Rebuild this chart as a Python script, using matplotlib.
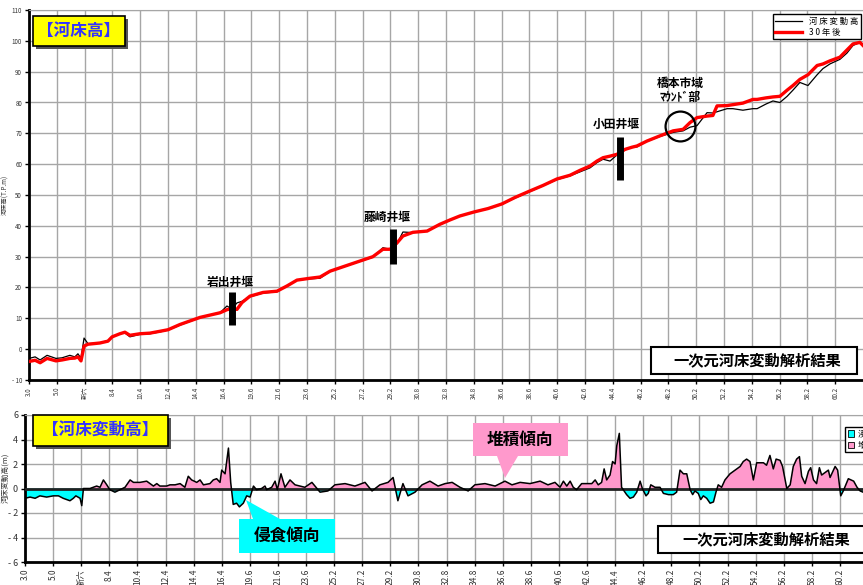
import matplotlib
matplotlib.use('Agg')
import matplotlib.pyplot as plt
from matplotlib.patches import Rectangle, Polygon, Patch

plt.rcParams['font.family'] = ['Noto Sans CJK JP', 'DejaVu Sans']

# ---------------- data ----------------
tick_labels = ['3.0', '5.0', '新六', '8.4', '10.4', '12.4', '14.4', '16.4', '19.6', '21.6',
               '23.6', '25.2', '27.2', '29.2', '30.8', '32.8', '34.8', '36.6', '38.6', '40.6',
               '42.6', '44.4', '46.2', '48.2', '50.2', '52.2', '54.2', '56.2', '58.2', '60.2']

# upper chart: positions on the category axis (tick index units)
top_pos = [0.00, 0.22, 0.40, 0.65, 0.97, 1.19, 1.47, 1.65, 1.76, 1.87, 1.98, 2.12, 2.55, 2.84,
           2.99, 3.27, 3.45, 3.63, 3.99, 4.35, 4.71, 5.00, 5.43, 6.15, 6.87, 7.12, 7.30, 7.48,
           7.66, 7.95, 8.42, 8.92, 9.28, 9.64, 10.11, 10.47, 10.83, 11.19, 11.91, 12.37, 12.73,
           12.99, 13.24, 13.45, 13.81, 14.32, 14.78, 15.14, 15.50, 16.01, 16.51, 17.01, 17.48,
           17.99, 18.49, 18.99, 19.46, 19.82, 20.18, 20.43, 20.65, 20.90, 21.15, 21.44, 21.69,
           21.87, 22.23, 22.70, 23.17, 23.53, 23.78, 24.03, 24.39, 24.60, 24.75, 25.11, 25.32,
           25.68, 26.04, 26.19, 26.51, 26.76, 27.01, 27.27, 27.48, 27.73, 28.02, 28.35, 28.56,
           28.81, 29.17, 29.42, 29.64, 29.89, 30.00]
current_bed = [-3.0, -2.5, -3.5, -2.0, -3.0, -2.8, -2.0, -2.5, -1.5, -3.0, 3.6, 1.8, 2.0, 2.8,
               4.0, 5.0, 5.3, 4.0, 4.8, 5.0, 5.6, 6.2, 7.8, 10.2, 11.8, 14.0, 13.0, 15.0,
               15.5, 17.0, 18.2, 18.6, 20.5, 22.4, 22.8, 23.0, 25.2, 26.3, 28.5, 29.8, 32.9,
               32.4, 34.2, 38.0, 37.8, 38.3, 40.4, 41.8, 43.2, 44.5, 45.5, 47.0, 49.0,
               51.0, 53.0, 55.0, 56.2, 57.5, 58.8, 60.5, 61.6, 61.0, 63.0, 64.6, 65.5,
               65.6, 67.4, 69.0, 70.3, 70.8, 72.0, 72.5, 76.7, 76.6, 77.0, 78.0, 78.0,
               77.5, 78.0, 78.0, 79.5, 80.5, 80.0, 82.0, 84.0, 86.5, 85.5, 89.0, 91.0,
               92.5, 94.0, 96.0, 98.5, 99.5, 98.5]
after_30y = [-4.0, -3.6, -4.4, -3.0, -3.8, -3.5, -3.0, -2.9, -2.5, -3.8, 1.0, 1.6, 2.0, 2.6,
             4.0, 5.0, 5.5, 4.5, 5.0, 5.2, 5.8, 6.3, 8.0, 10.3, 11.8, 12.8, 13.2, 12.9,
             15.1, 17.2, 18.4, 18.8, 20.5, 22.4, 23.0, 23.4, 25.3, 26.4, 28.6, 30.0, 32.4,
             32.4, 34.5, 36.7, 37.9, 38.3, 40.5, 41.9, 43.2, 44.5, 45.6, 47.1, 49.2,
             51.2, 53.1, 55.2, 56.4, 58.0, 59.4, 61.0, 62.1, 62.6, 63.2, 64.8, 65.5,
             65.9, 67.5, 69.2, 70.8, 71.3, 73.5, 75.1, 75.6, 75.8, 78.9, 79.0, 79.3,
             79.8, 81.0, 81.0, 81.5, 81.8, 82.0, 84.0, 85.5, 87.5, 89.0, 92.0, 92.5,
             93.5, 94.7, 97.0, 99.0, 99.5, 98.5]

# lower chart: riverbed change height (m)
chg_pos = [0.00, 0.18, 0.36, 0.53, 0.77, 1.01, 1.19, 1.36, 1.48, 1.60, 1.72, 1.81, 1.96, 2.02,
           2.08, 2.31, 2.55, 2.67, 2.79, 2.91, 3.02, 3.20, 3.38, 3.56, 3.74, 3.86, 4.09, 4.33,
           4.57, 4.69, 4.80, 5.04, 5.16, 5.34, 5.52, 5.69, 5.81, 5.93, 6.11, 6.23, 6.35, 6.58,
           6.70, 6.82, 6.94, 7.00, 7.12, 7.24, 7.32, 7.41, 7.53, 7.63, 7.77, 7.89, 8.01, 8.13,
           8.24, 8.42, 8.54, 8.60, 8.78, 8.90, 8.98, 9.11, 9.25, 9.43, 9.61, 9.79,
           9.96, 10.21, 10.50, 10.78, 11.03, 11.39, 11.74, 12.10, 12.35, 12.63, 12.92, 13.10,
           13.27, 13.45, 13.63, 13.88, 14.13, 14.41, 14.70, 14.95, 15.20, 15.48, 15.77, 16.01,
           16.37, 16.73, 17.08, 17.33, 17.62, 17.97, 18.33, 18.61, 18.86,
           19.04, 19.16, 19.28, 19.40, 19.51, 19.63, 19.81, 19.99, 20.17, 20.29, 20.40, 20.52,
           20.61, 20.70, 20.82, 20.91, 21.00, 21.06, 21.15, 21.23, 21.41, 21.53, 21.65, 21.77,
           21.89, 21.97, 22.10, 22.18, 22.27, 22.42, 22.60, 22.72, 22.90, 23.07, 23.19, 23.31,
           23.43, 23.55, 23.67, 23.76, 23.84, 23.96, 24.05, 24.14, 24.26, 24.38, 24.50, 24.59,
           24.67, 24.79, 24.91, 25.09, 25.33, 25.45, 25.56, 25.68, 25.80, 25.92, 26.04, 26.16,
           26.28, 26.39, 26.51, 26.63, 26.73, 26.87, 26.96, 27.11, 27.23, 27.34, 27.46, 27.56,
           27.64, 27.76, 27.88, 27.96, 28.06, 28.17, 28.27, 28.35, 28.47, 28.59, 28.65, 28.83,
           28.92, 29.03, 29.12, 29.30, 29.49, 29.61, 29.72, 29.83, 30.00]
chg_val = [-0.8, -0.7, -0.8, -0.6, -0.7, -0.6, -0.6, -0.8, -0.9, -1.0, -0.8, -0.6, -0.8, -1.4,
           0.0, 0.0, 0.2, 0.1, 0.7, 0.3, -0.1, -0.3, -0.1, 0.1, 0.7, 0.5, 0.5, 0.6,
           0.2, 0.4, 0.2, 0.2, 0.3, 0.3, 0.4, 0.1, 1.0, 0.7, 0.5, 0.7, 0.3, 0.4,
           0.7, 0.8, 0.5, 1.5, 1.2, 3.3, 0.5, -1.3, -1.2, -1.5, -1.2, -0.6, -0.7, 0.2,
           -0.1, 0.0, 0.2, -0.1, 0.1, 0.6, -0.1, 1.2, 0.1, 0.7, 0.3, 0.2,
           0.1, 0.5, -0.3, -0.2, 0.3, 0.4, 0.2, 0.5, -0.2, 0.3, 0.5, 0.9,
           -1.0, 0.4, -0.6, -0.3, 0.3, 0.6, 0.2, 0.4, 0.5, 0.1, -0.2, 0.3,
           0.4, 0.2, 0.6, 0.3, 0.5, 0.4, 0.6, 0.3, 0.5,
           0.1, 0.6, 0.2, 0.6, 0.1, -0.1, 0.4, 0.4, 0.4, 0.7, 0.3, 0.5,
           1.6, 0.7, 1.1, 2.2, 2.0, 3.5, 4.5, 0.1, -0.5, -0.8, -0.7, -0.3,
           0.6, 0.0, -0.6, -0.4, 0.3, 0.1, 0.1, -0.4, -0.5, -0.5, -0.3, 1.5,
           1.2, 1.2, -0.1, -0.5, -0.2, -0.4, -0.9, -0.6, -0.8, -1.2, -1.1, -0.3,
           0.3, 0.1, 0.7, 1.2, 1.6, 1.8, 2.2, 2.4, 2.2, 0.7, 2.1, 2.1,
           2.1, 1.9, 2.7, 1.6, 2.4, 2.3, 1.8, 0.0, 0.3, 1.8, 2.4, 2.6,
           1.0, 0.4, 1.4, 1.7, 0.7, 0.4, 1.7, 1.1, 1.3, 1.5, 0.9, 1.8,
           1.5, -0.6, -0.2, 0.8, 0.6, 0.1, -0.2, -0.3, -0.5]

weir_names = ['岩出井堰', '藤崎井堰', '小田井堰']
weir_pos = [7.30, 13.09, 21.26]

# ---------------- figure ----------------
W, H = 863, 585
fig = plt.figure(figsize=(W / 100, H / 100), dpi=100)


def fr(x0, y0, x1, y1):
    """pixel box (top-left origin) -> figure fraction rect"""
    return [x0 / W, 1 - y1 / H, (x1 - x0) / W, (y1 - y0) / H]


def px_rect(x0, y0, x1, y1, **kw):
    r = fr(x0, y0, x1, y1)
    return Rectangle((r[0], r[1]), r[2], r[3], transform=fig.transFigure, **kw)


def px_poly(pts, **kw):
    return Polygon([(x / W, 1 - y / H) for x, y in pts], closed=True,
                   transform=fig.transFigure, **kw)


grid_c = '#a6a6a6'

# ---------- upper chart ----------
ax1 = fig.add_axes(fr(29, 10, 863, 380))
ax1.set_xlim(0, 30)
ax1.set_ylim(-10, 110)
ax1.set_xticks(range(len(tick_labels)))
ax1.set_xticklabels(tick_labels, rotation=90, fontsize=4.5, color='#333333')
yt = list(range(-10, 111, 10))
ax1.set_yticks(yt)
ax1.set_yticklabels([('- %d' % -v) if v < 0 else str(v) for v in yt], fontsize=4.5, color='#333333')
ax1.grid(True, color=grid_c, lw=1)
ax1.set_axisbelow(True)
ax1.spines['right'].set_visible(False)
ax1.spines['top'].set_color(grid_c)
ax1.spines['left'].set_linewidth(2)
ax1.spines['bottom'].set_linewidth(2)
ax1.tick_params(length=3, width=1, pad=2)

ax1.plot(top_pos, current_bed, color='black', lw=0.9, label='河 床 変 動 高', zorder=3)
ax1.plot(top_pos, after_30y, color='red', lw=2.4, label='3 0 年 後', zorder=4)

leg = ax1.legend(loc='upper left', bbox_to_anchor=(0.892, 0.988), fontsize=6,
                 frameon=True, fancybox=False, edgecolor='black', framealpha=1,
                 handlelength=3.2, borderpad=0.3, labelspacing=0.2, borderaxespad=0)
leg.get_frame().set_linewidth(1)

# weirs
weir_y = [(7.7, 18.4), (27.5, 39.0), (55.0, 68.9)]
weir_lab = [(7.23, 21.7), (12.87, 42.8), (21.14, 73.0)]
for name, xp, (y0, y1), (lx, ly) in zip(weir_names, weir_pos, weir_y, weir_lab):
    ax1.plot([xp, xp], [y0, y1], color='black', lw=5, solid_capstyle='butt', zorder=6)
    ax1.text(lx, ly, name, ha='center', va='center', fontsize=8.5, fontweight='bold', zorder=7)

ax1.text(23.42, 86.3, '橋本市域', ha='center', va='center', fontsize=8.5, fontweight='bold')
ax1.text(23.42, 81.5, 'ﾏｳﾝﾄﾞ部', ha='center', va='center', fontsize=8.5, fontweight='bold')
ax1.plot([23.42], [72.4], 'o', ms=21.5, mfc='none', mec='black', mew=1.6, zorder=6)

# ---------- lower chart ----------
ax2 = fig.add_axes(fr(25, 415, 868, 562))
ax2.set_xlim(0, 30)
ax2.set_ylim(-6, 6)
ax2.set_xticks(range(len(tick_labels)))
ax2.set_xticklabels(tick_labels, rotation=90, fontsize=6, color='#333333')
yt2 = list(range(-6, 7, 2))
ax2.set_yticks(yt2)
ax2.set_yticklabels([('- %d' % -v) if v < 0 else str(v) for v in yt2], fontsize=6.5, color='#333333')
ax2.grid(True, color=grid_c, lw=1)
ax2.set_axisbelow(True)
ax2.spines['right'].set_visible(False)
ax2.spines['top'].set_color(grid_c)
ax2.spines['left'].set_linewidth(2)
ax2.spines['bottom'].set_linewidth(2)
ax2.tick_params(length=3, width=1, pad=2)

ax2.fill_between(chg_pos, chg_val, 0, where=[v >= 0 for v in chg_val], interpolate=True,
                 color='#ff99cc', lw=0, zorder=2)
ax2.fill_between(chg_pos, chg_val, 0, where=[v <= 0 for v in chg_val], interpolate=True,
                 color='#00ffff', lw=0, zorder=2)
ax2.axhline(0, color='#222222', lw=2, zorder=3)
ax2.plot(chg_pos, chg_val, color='black', lw=1.1, zorder=4)

leg2 = ax2.legend(handles=[Patch(fc='#00ffff', ec='black', lw=0.6, label='浸食'),
                           Patch(fc='#ff99cc', ec='black', lw=0.6, label='堆積')],
                  loc='upper left', bbox_to_anchor=(0.973, 0.92), fontsize=6, frameon=True,
                  fancybox=False, edgecolor='black', framealpha=1, handlelength=0.8,
                  handleheight=0.8, borderpad=0.3, labelspacing=0.3, handletextpad=0.4,
                  borderaxespad=0)
leg2.get_frame().set_linewidth(1)

# axis titles
fig.text(5 / W, 1 - 195 / H, '河床高(T.P.m)', rotation=90, fontsize=4.5, ha='center', va='center',
         color='#333333')
fig.text(5 / W, 1 - 478 / H, '河床変動高(m)', rotation=90, fontsize=5.5, ha='center', va='center',
         color='#333333')

# ---------- title boxes ----------
for (x0, y0, x1, y1, txt) in [(33, 16, 125, 46, '【河床高】'), (33, 415, 168, 446, '【河床変動高】')]:
    fig.patches.append(px_rect(x0 + 3, y0 + 3, x1 + 3, y1 + 3, fc='#555555', ec='none', zorder=10))
    fig.patches.append(px_rect(x0, y0, x1, y1, fc='#ffff00', ec='black', lw=1.2, zorder=11))
    fig.text((x0 + x1) / 2 / W, 1 - (y0 + y1) / 2 / H, txt, ha='center', va='center',
             fontsize=12, fontweight='bold', color='#3333ff', zorder=12)

# result boxes
for (x0, y0, x1, y1) in [(651, 347, 857, 374), (658, 526, 868, 553)]:
    fig.patches.append(px_rect(x0, y0, x1, y1, fc='white', ec='black', lw=1.5, zorder=10))
    fig.text((x0 + x1) / 2 / W + 0.004, 1 - (y0 + y1) / 2 / H, '一次元河床変動解析結果',
             ha='center', va='center', fontsize=11, fontweight='bold', zorder=12)

# callouts
fig.patches.append(px_poly([(239, 519), (253, 519), (246, 500), (280, 519), (335, 519),
                            (335, 553), (239, 553)], fc='#00ffff', ec='none', zorder=10))
fig.text(287 / W, 1 - 536 / H, '侵食傾向', ha='center', va='center', fontsize=12,
         fontweight='bold', zorder=12)
fig.patches.append(px_poly([(473, 423), (568, 423), (568, 456), (518, 456), (505, 478),
                            (497, 456), (473, 456)], fc='#ff99cc', ec='none', zorder=10))
fig.text(520 / W, 1 - 440 / H, '堆積傾向', ha='center', va='center', fontsize=12,
         fontweight='bold', zorder=12)

fig.savefig('out.png', dpi=100)
